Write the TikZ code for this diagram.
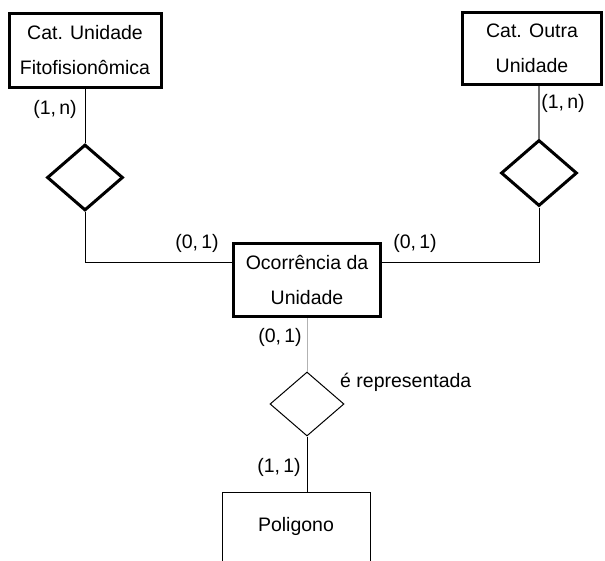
\documentclass[tikz,border=0pt]{standalone}
\usepackage{fontspec}
\setmainfont{Liberation Sans}
\usetikzlibrary{shapes.geometric}
\begin{document}
\begin{tikzpicture}[x=1pt,y=-1pt,
  txt/.style={font=\fontsize{19.5}{35}\selectfont},
  entity/.style={draw, rectangle, line width=#1, inner sep=0pt, align=center, txt},
  entity/.default=3pt,
  rel/.style={draw, diamond, line width=#1, inner sep=0pt, minimum width=76pt, minimum height=66pt},
  rel/.default=3pt,
  card/.style={txt, inner sep=0pt},
  link/.style={draw=black, line width=1pt}
]
\useasboundingbox (0,0) rectangle (605,560);
\clip (0,0) rectangle (605,560);

% entities
\node[entity, minimum width=152pt, minimum height=74pt] (b1) at (85,50.5)
  {Cat. Unidade\\Fitofisionômica};
\node[entity, minimum width=139pt, minimum height=72pt] (b2) at (532,48.5)
  {Cat. Outra\\Unidade};
\node[entity, minimum width=147pt, minimum height=73pt] (b3) at (307,280)
  {Ocorrência da\\Unidade};
\node[entity=1pt, minimum width=148pt, minimum height=90pt, anchor=north] (b4) at (296.5,492) {};
\node[txt] at (296,526) {Poligono};

% relationships
\node[rel] (d1) at (85,177.5) {};
\node[rel] (d2) at (539,173) {};
\node[rel=1pt, minimum width=74pt, minimum height=64pt] (d3) at (307,404) {};

% connectors
\draw[link] (b1.south) -- (d1.north);
\draw[link] (d1.south) |- ([yshift=18pt]b3.west);
\draw[link, draw=black!55, line width=1.3pt] (d2.north) -- (d2.north |- b2.south);
\draw[link] (d2.south) |- ([yshift=18pt]b3.east);
\draw[link, draw=black!30] (b3.south) -- (d3.north);
\draw[link] (d3.south) -- (d3.south |- b4.north);

% cardinalities
\node[card] at (55,109) {(1,\,n)};
\node[card] at (563,103) {(1,\,n)};
\node[card] at (197,243) {(0,\,1)};
\node[card] at (415,243) {(0,\,1)};
\node[card] at (280,337.5) {(0,\,1)};
\node[card] at (279,467.5) {(1,\,1)};
\node[card, anchor=base west] at (340,387) {é representada};
\end{tikzpicture}
\end{document}
